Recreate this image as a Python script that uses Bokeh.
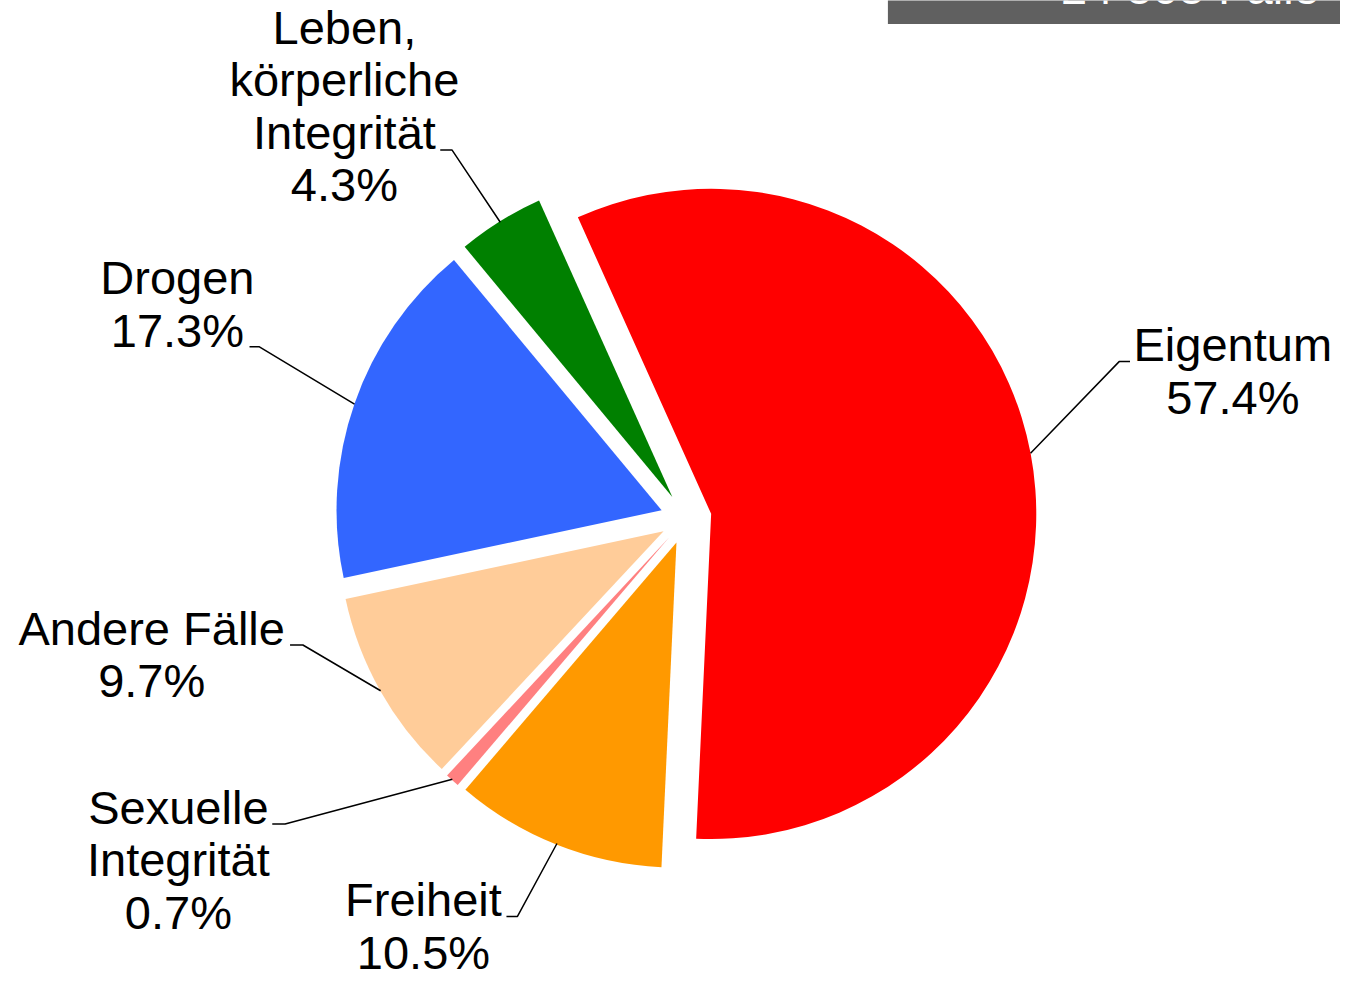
import math
from bokeh.plotting import figure
from bokeh.models import Range1d, ColumnDataSource
from bokeh.core.properties import value
from bokeh.embed import file_html
from bokeh.resources import INLINE

# ---------------- data ----------------
categories = ["Eigentum", "Freiheit", "Sexuelle\nIntegrität", "Andere Fälle",
              "Drogen", "Leben,\nkörperliche\nIntegrität"]
shares = [57.4, 10.5, 0.7, 9.7, 17.3, 4.3]
colors = ["#FF0000", "#FF9900", "#FF8080", "#FFCC99", "#3366FF", "#008000"]
total_label = "24 505 Fälle"

# ---------------- layout (reference-pixel coordinates) ----------------
W, H = 1340, 982
RW, RH = 1356, 998           # coordinate space of the layout numbers
CX, CY = 693.6, 526.6        # pie centre
R = 329                      # pie radius
EXPLODE = 26                 # explosion distance
START = -24.2                # first slice start, degrees clockwise from 12 o'clock
FONT = "Liberation Sans"
FS = "47px"
LINE_H = 53.5
TXT_SHIFT = 18               # compensation for the renderer's baseline placement
# (label centre x, first baseline y, leader attach x, attach y, elbow x)
label_layout = [
    (1247, 368, 1143, 367, 1132),
    (428, 932, 512, 931, 523),
    (180, 838, 275, 837, 288),
    (153, 656, 293, 655, 306),
    (179, 300, 252, 352, 262),
    (348, 45, 445, 152, 457),
]

p = figure(width=W, height=H, output_backend="svg", toolbar_location=None,
           x_range=Range1d(0, RW), y_range=Range1d(-RH, 0),
           x_axis_type=None, y_axis_type=None, min_border=0)
p.grid.visible = False
p.outline_line_color = None
p.background_fill_color = "white"
p.border_fill_color = "white"

total = sum(shares)
wx, wy, sa, ea, mids = [], [], [], [], []
cum = START
for s in shares:
    t1 = cum
    t2 = cum + s / total * 360.0
    cum = t2
    mid = math.radians((t1 + t2) / 2)
    mids.append(mid)
    wx.append(CX + EXPLODE * math.sin(mid))
    wy.append(-CY + EXPLODE * math.cos(mid))
    sa.append(math.radians(90 - t2))
    ea.append(math.radians(90 - t1))

src = ColumnDataSource(dict(x=wx, y=wy, sa=sa, ea=ea, color=colors))
p.wedge(x="x", y="y", radius=R, start_angle="sa", end_angle="ea",
        fill_color="color", line_color=None, source=src)

# leader lines
xs, ys = [], []
for (cx, by, ax, ay, ex), mid in zip(label_layout, mids):
    px = CX + (EXPLODE + R) * math.sin(mid)
    py = -CY + (EXPLODE + R) * math.cos(mid)
    xs.append([ax, ex, px])
    ys.append([-ay, -ay, py])
p.multi_line(xs=xs, ys=ys, line_color="black", line_width=1.5)

# labels
tx, ty, tt = [], [], []
for cat, s, (cx, by, ax, ay, ex) in zip(categories, shares, label_layout):
    lines = cat.split("\n") + [f"{s:.1f}%"]
    for i, ln in enumerate(lines):
        tx.append(cx)
        ty.append(-(by + i * LINE_H) + TXT_SHIFT)
        tt.append(ln)
p.text(x=tx, y=ty, text=tt, text_font=value(FONT), text_font_size=FS,
       text_align="center", text_baseline="alphabetic", text_color="black")

# total box (cut off at the top, as in the reference)
p.quad(left=[898], right=[RW + 20], top=[20], bottom=[-24],
       fill_color="#606060", line_color=None)
p.text(x=[1335], y=[-5 + TXT_SHIFT], text=[total_label], text_font=value(FONT),
       text_font_size=FS, text_align="right", text_baseline="alphabetic",
       text_color="white")

open("out.html", "w").write(file_html(p, INLINE))
